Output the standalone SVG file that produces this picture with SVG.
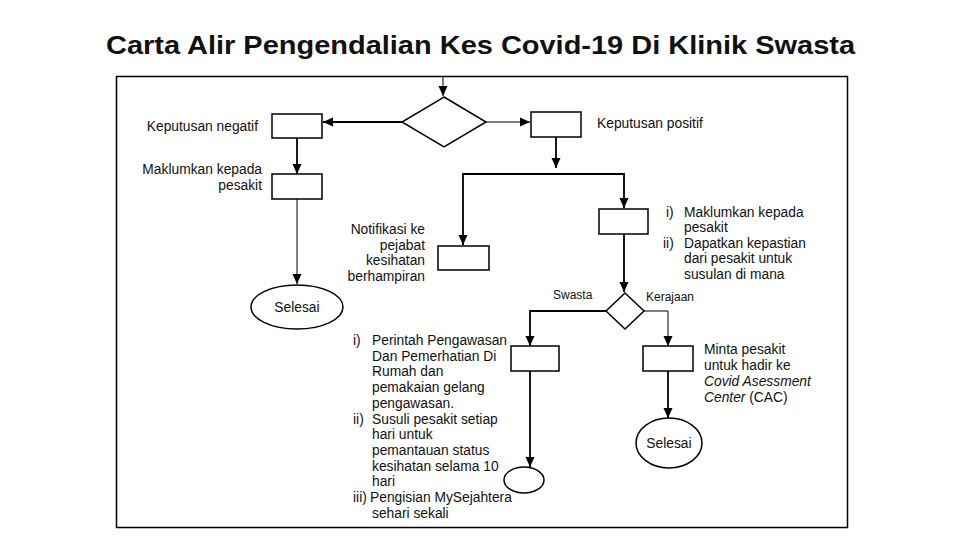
<svg xmlns="http://www.w3.org/2000/svg" width="960" height="540" viewBox="0 0 960 540">
<style>
text{font-family:"Liberation Sans",Arial,sans-serif;fill:#111;}
.t{font-size:13.8px;}
.r{text-anchor:end;}
.box{fill:#fff;stroke:#000;stroke-width:1.5;}
.ln{fill:none;stroke:#000;stroke-width:1.8;}
.thin{fill:none;stroke:#000;stroke-width:1;}
</style>
<defs>
<marker id="ah" markerUnits="userSpaceOnUse" markerWidth="10" markerHeight="10" viewBox="0 0 10 10" refX="10" refY="5" orient="auto">
<path d="M0,0.5 L10,5 L0,9.5 Z" fill="#000"/>
</marker>
</defs>
<rect width="960" height="540" fill="#fff"/>
<text x="106" y="54" font-size="26" font-weight="bold" textLength="749" lengthAdjust="spacingAndGlyphs">Carta Alir Pengendalian Kes Covid-19 Di Klinik Swasta</text>
<rect x="116.5" y="76.5" width="731" height="451" fill="none" stroke="#000" stroke-width="1.5"/>

<g id="connectors">
<line class="thin" x1="443" y1="76" x2="443" y2="96" marker-end="url(#ah)"/>
<line class="ln" x1="402" y1="122" x2="323" y2="122" marker-end="url(#ah)"/>
<line class="thin" x1="486" y1="122" x2="530" y2="122" marker-end="url(#ah)"/>
<line class="ln" x1="297" y1="138" x2="297" y2="174" marker-end="url(#ah)"/>
<line class="thin" x1="297" y1="199" x2="297" y2="284" marker-end="url(#ah)"/>
<line class="ln" x1="556" y1="137" x2="556" y2="168" marker-end="url(#ah)"/>
<polyline class="ln" points="463,245 463,174 624,174 624,208" marker-end="url(#ah)"/>
<line class="ln" x1="463" y1="235" x2="463" y2="245" marker-end="url(#ah)"/>
<line class="ln" x1="624" y1="234" x2="624" y2="292" marker-end="url(#ah)"/>
<polyline class="ln" points="606,311 530,311 530,346" marker-end="url(#ah)"/>
<polyline class="thin" points="644,311 668,311 668,346" marker-end="url(#ah)"/>
<line class="ln" x1="530" y1="371" x2="530" y2="467" marker-end="url(#ah)"/>
<line class="ln" x1="668" y1="371" x2="668" y2="418" marker-end="url(#ah)"/>
</g>

<g id="decision1"><polygon class="box" points="444,97 486,122 444,147 402,122"/></g>

<g id="negatif">
<rect class="box" x="272" y="114" width="50" height="24"/>
<text class="t r" x="258" y="131">Keputusan negatif</text>
</g>
<g id="positif">
<rect class="box" x="531" y="112" width="50" height="25"/>
<text class="t" x="597" y="128">Keputusan positif</text>
</g>
<g id="maklum-neg">
<rect class="box" x="272" y="174" width="50" height="25"/>
<text class="t r" x="262" y="174">Maklumkan kepada</text>
<text class="t r" x="262" y="190">pesakit</text>
</g>
<g id="selesai1">
<ellipse class="box" cx="297" cy="307" rx="46" ry="22"/>
<text class="t" x="297" y="312" text-anchor="middle">Selesai</text>
</g>
<g id="notifikasi">
<rect class="box" x="438" y="246" width="51" height="24"/>
<text class="t r" x="425" y="234">Notifikasi ke</text>
<text class="t r" x="425" y="250">pejabat</text>
<text class="t r" x="425" y="265">kesihatan</text>
<text class="t r" x="425" y="281">berhampiran</text>
</g>
<g id="maklum-pos">
<rect class="box" x="599" y="209" width="49" height="25"/>
<text class="t" x="666" y="217">i)</text>
<text class="t" x="684" y="217">Maklumkan kepada</text>
<text class="t" x="684" y="232">pesakit</text>
<text class="t" x="663" y="248">ii)</text>
<text class="t" x="684" y="248">Dapatkan kepastian</text>
<text class="t" x="684" y="263">dari pesakit untuk</text>
<text class="t" x="684" y="279">susulan di mana</text>
</g>
<g id="decision2">
<polygon class="box" points="625,293 644,311 625,329 606,311"/>
<text x="553" y="299" font-size="12">Swasta</text>
<text x="646" y="301" font-size="12">Kerajaan</text>
</g>
<g id="swasta-box">
<rect class="box" x="511" y="346" width="48" height="25"/>
<text class="t" x="353" y="345">i)</text>
<text class="t" x="372" y="345">Perintah Pengawasan</text>
<text class="t" x="372" y="361">Dan Pemerhatian Di</text>
<text class="t" x="372" y="376">Rumah dan</text>
<text class="t" x="372" y="392">pemakaian gelang</text>
<text class="t" x="372" y="408">pengawasan.</text>
<text class="t" x="353" y="424">ii)</text>
<text class="t" x="372" y="424">Susuli pesakit setiap</text>
<text class="t" x="372" y="439">hari untuk</text>
<text class="t" x="372" y="455">pemantauan status</text>
<text class="t" x="372" y="471">kesihatan selama 10</text>
<text class="t" x="372" y="486">hari</text>
<text class="t" x="353" y="502">iii)</text>
<text class="t" x="370" y="502">Pengisian MySejahtera</text>
<text class="t" x="372" y="518">sehari sekali</text>
</g>
<g id="connector-circle">
<ellipse class="box" cx="524" cy="480" rx="20" ry="13"/>
</g>
<g id="kerajaan-box">
<rect class="box" x="643" y="346" width="50" height="25"/>
<text class="t" x="704" y="354">Minta pesakit</text>
<text class="t" x="704" y="370">untuk hadir ke</text>
<text class="t" x="704" y="386" font-style="italic">Covid Asessment</text>
<text class="t" x="704" y="402"><tspan font-style="italic">Center</tspan> (CAC)</text>
</g>
<g id="selesai2">
<ellipse class="box" cx="669" cy="443" rx="33" ry="25"/>
<text class="t" x="669" y="448" text-anchor="middle">Selesai</text>
</g>
</svg>
